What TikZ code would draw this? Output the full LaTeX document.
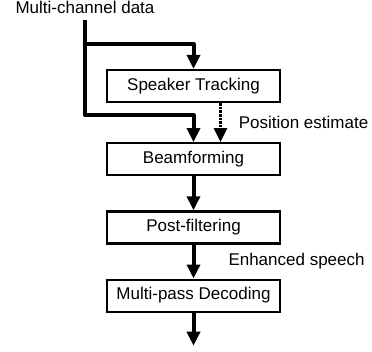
\documentclass[tikz,border=0pt]{standalone}
\usepackage{fontspec}
\setmainfont{Liberation Sans}
\usetikzlibrary{ arrows.meta, positioning }
\tikzset{
>={Triangle[length=14pt,width=13pt]}, % solid heads, one size for all
node distance=34pt, % gap between two stages of the chain
every node/.style={inner sep=0pt, font=\fontsize{17}{20}\selectfont},
stage/.style={draw, line width=2.2pt, minimum width=173pt, minimum height=32pt},
flow/.style={->, line width=4pt, line join=round}, % signal path
hint/.style={->, line width=2.6pt, densely dotted}, % side information
}

\begin{document}
\begin{tikzpicture}
  \useasboundingbox (0,0) rectangle (372pt,-351pt);

  % Input and where it splits ----------------------
  \node[anchor=base] (input) at (85pt,-13pt) {Multi-channel data};
  \coordinate[below=7pt of input.base] (split);

  % Processing chain -------------------------------
  \node[stage] (track) at (193.5pt,-86pt) {Speaker Tracking};
  \node[stage, below=39pt of track] (beam) {Beamforming};
  \node[stage, below=of beam] (post) {Post-filtering};
  \node[stage, below=of post] (decode) {Multi-pass Decoding};
  \coordinate[below=33pt of decode] (out);

  % the two feeds from the input
  \draw[flow] (split) |- ([yshift=25pt]track.north) -- (track.north);
  \draw[flow] (split) |- ([yshift=27pt]beam.north) -- (beam.north);

  \draw[hint] ([xshift=27pt]track.south) -- node[right=17pt]{Position estimate} ([xshift=27pt]beam.north);

  \draw[flow] (beam) -- (post);
  \draw[flow] (post) -- node[right=33pt]{Enhanced speech} (decode);
  \draw[flow] (decode) -- (out);
\end{tikzpicture}
\end{document}
